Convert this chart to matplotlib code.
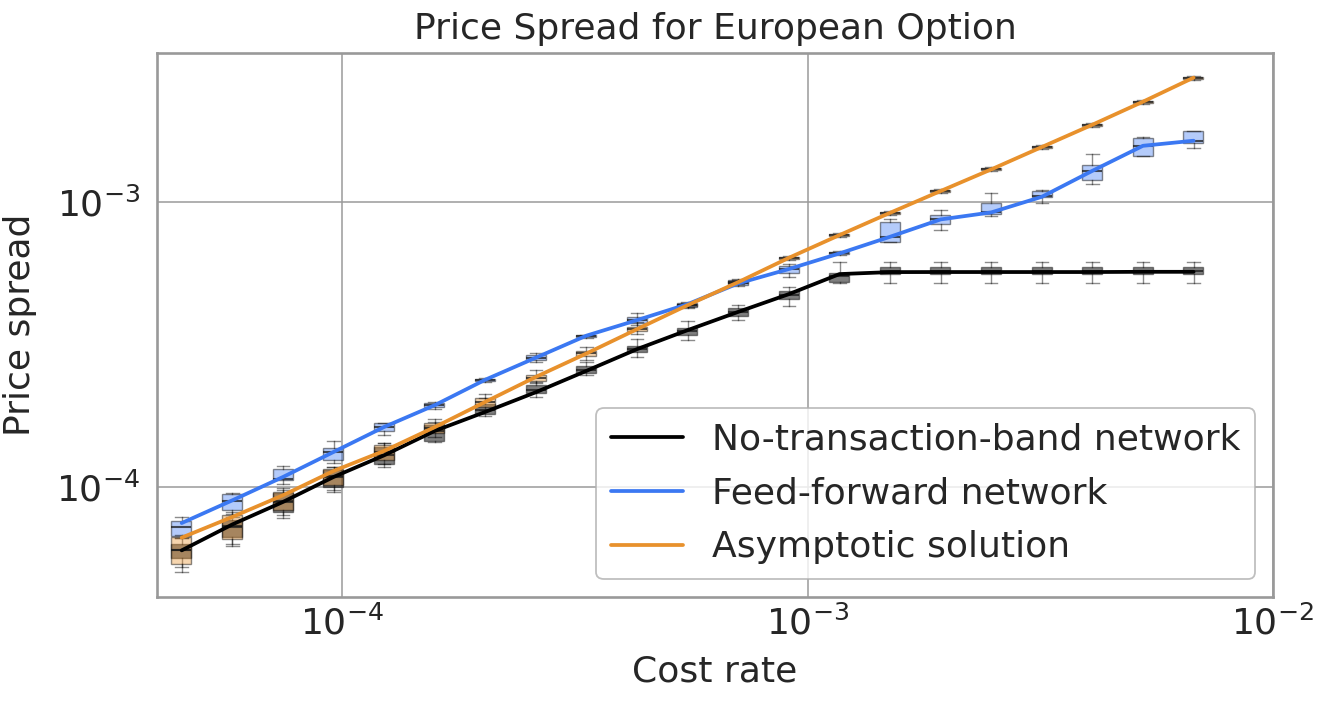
import matplotlib
matplotlib.use("Agg")
import matplotlib.pyplot as plt
from matplotlib.colors import to_rgba
from matplotlib.ticker import NullLocator

# ---------------- data ----------------
cost_rate = [4.52e-5, 5.81e-5, 7.46e-5, 9.58e-5, 1.231e-4, 1.580e-4, 2.030e-4,
             2.607e-4, 3.348e-4, 4.300e-4, 5.524e-4, 7.096e-4, 9.114e-4, 1.171e-3,
             1.504e-3, 1.931e-3, 2.481e-3, 3.186e-3, 4.092e-3, 5.256e-3, 6.751e-3]

# No-transaction-band network
ntb_line = [5.98e-5, 7.38e-5, 8.85e-5, 1.083e-4, 1.291e-4, 1.572e-4, 1.834e-4,
            2.151e-4, 2.557e-4, 3.048e-4, 3.555e-4, 4.122e-4, 4.758e-4, 5.596e-4,
            5.687e-4, 5.69e-4, 5.69e-4, 5.69e-4, 5.69e-4, 5.70e-4, 5.70e-4]
ntb_whislo = [5.21e-5, 6.28e-5, 7.74e-5, 9.57e-5, 1.172e-4, 1.435e-4, 1.771e-4,
              2.072e-4, 2.469e-4, 2.850e-4, 3.279e-4, 3.855e-4, 4.318e-4, 5.213e-4,
              5.213e-4, 5.213e-4, 5.213e-4, 5.213e-4, 5.213e-4, 5.213e-4, 5.213e-4]
ntb_q1 = [5.64e-5, 6.67e-5, 8.14e-5, 9.97e-5, 1.201e-4, 1.450e-4, 1.810e-4,
          2.129e-4, 2.515e-4, 2.974e-4, 3.405e-4, 3.982e-4, 4.570e-4, 5.256e-4,
          5.596e-4, 5.596e-4, 5.596e-4, 5.596e-4, 5.596e-4, 5.596e-4, 5.596e-4]
ntb_med = [5.98e-5, 7.27e-5, 8.83e-5, 1.081e-4, 1.291e-4, 1.569e-4, 1.860e-4,
           2.187e-4, 2.571e-4, 3.048e-4, 3.526e-4, 4.113e-4, 4.720e-4, 5.505e-4,
           5.747e-4, 5.747e-4, 5.747e-4, 5.747e-4, 5.747e-4, 5.747e-4, 5.747e-4]
ntb_q3 = [6.32e-5, 7.63e-5, 9.49e-5, 1.144e-4, 1.378e-4, 1.647e-4, 1.963e-4,
          2.277e-4, 2.656e-4, 3.122e-4, 3.603e-4, 4.237e-4, 4.887e-4, 5.654e-4,
          5.936e-4, 5.936e-4, 5.936e-4, 5.936e-4, 5.936e-4, 5.936e-4, 5.936e-4]
ntb_whishi = [6.60e-5, 7.82e-5, 9.73e-5, 1.172e-4, 1.424e-4, 1.687e-4, 2.050e-4,
              2.333e-4, 2.744e-4, 3.297e-4, 3.833e-4, 4.351e-4, 5.047e-4, 6.152e-4,
              6.182e-4, 6.182e-4, 6.182e-4, 6.182e-4, 6.182e-4, 6.182e-4, 6.182e-4]

# Feed-forward network
ffn_line = [7.46e-5, 8.97e-5, 1.083e-4, 1.326e-4, 1.624e-4, 1.936e-4, 2.380e-4,
            2.845e-4, 3.400e-4, 3.855e-4, 4.387e-4, 5.19e-4, 5.83e-4, 6.615e-4,
            7.57e-4, 8.71e-4, 9.22e-4, 1.046e-3, 1.291e-3, 1.581e-3, 1.647e-3]
ffn_whislo = [6.60e-5, 8.05e-5, 1.027e-4, 1.208e-4, 1.519e-4, 1.885e-4, 2.342e-4,
              2.750e-4, 3.345e-4, 3.702e-4, 4.265e-4, 5.076e-4, 5.474e-4, 6.525e-4,
              7.268e-4, 7.991e-4, 8.99e-4, 9.92e-4, 1.160e-3, 1.455e-3, 1.556e-3]
ffn_q1 = [6.72e-5, 8.27e-5, 1.055e-4, 1.247e-4, 1.573e-4, 1.901e-4, 2.361e-4,
          2.788e-4, 3.367e-4, 3.772e-4, 4.292e-4, 5.117e-4, 5.654e-4, 6.562e-4,
          7.268e-4, 8.367e-4, 9.07e-4, 1.046e-3, 1.198e-3, 1.458e-3, 1.613e-3]
ffn_med = [7.21e-5, 8.92e-5, 1.069e-4, 1.327e-4, 1.624e-4, 1.936e-4, 2.380e-4,
           2.840e-4, 3.385e-4, 3.855e-4, 4.369e-4, 5.200e-4, 5.826e-4, 6.632e-4,
           7.568e-4, 8.713e-4, 9.27e-4, 1.055e-3, 1.288e-3, 1.581e-3, 1.647e-3]
ffn_q3 = [7.59e-5, 9.47e-5, 1.160e-4, 1.370e-4, 1.670e-4, 1.973e-4, 2.396e-4,
          2.903e-4, 3.405e-4, 3.940e-4, 4.434e-4, 5.329e-4, 5.984e-4, 6.702e-4,
          8.506e-4, 9.022e-4, 9.92e-4, 1.100e-3, 1.353e-3, 1.688e-3, 1.777e-3]
ffn_whishi = [7.84e-5, 9.52e-5, 1.182e-4, 1.450e-4, 1.678e-4, 1.984e-4, 2.410e-4,
              2.943e-4, 3.427e-4, 4.090e-4, 4.459e-4, 5.372e-4, 6.067e-4, 6.741e-4,
              8.738e-4, 9.395e-4, 1.081e-3, 1.105e-3, 1.482e-3, 1.693e-3, 1.781e-3]

# Asymptotic solution
asy_line = [6.63e-5, 7.84e-5, 9.34e-5, 1.137e-4, 1.338e-4, 1.621e-4, 1.989e-4,
            2.435e-4, 2.943e-4, 3.583e-4, 4.351e-4, 5.244e-4, 6.383e-4, 7.674e-4,
            9.19e-4, 1.096e-3, 1.306e-3, 1.565e-3, 1.875e-3, 2.259e-3, 2.744e-3]
asy_whislo = [5.02e-5, 6.18e-5, 7.94e-5, 9.73e-5, 1.201e-4, 1.495e-4, 1.860e-4,
              2.309e-4, 2.788e-4, 3.441e-4, 4.28e-4, 5.16e-4, 6.28e-4, 7.55e-4,
              9.04e-4, 1.078e-3, 1.285e-3, 1.540e-3, 1.845e-3, 2.222e-3, 2.700e-3]
asy_q1 = [5.34e-5, 6.53e-5, 8.27e-5, 1.013e-4, 1.241e-4, 1.540e-4, 1.910e-4,
          2.358e-4, 2.886e-4, 3.526e-4, 4.32e-4, 5.20e-4, 6.33e-4, 7.61e-4,
          9.12e-4, 1.087e-3, 1.295e-3, 1.552e-3, 1.860e-3, 2.241e-3, 2.722e-3]
asy_med = [5.98e-5, 7.21e-5, 8.90e-5, 1.090e-4, 1.323e-4, 1.607e-4, 1.984e-4,
           2.419e-4, 2.951e-4, 3.583e-4, 4.351e-4, 5.244e-4, 6.383e-4, 7.674e-4,
           9.19e-4, 1.096e-3, 1.306e-3, 1.565e-3, 1.875e-3, 2.259e-3, 2.744e-3]
asy_q3 = [6.67e-5, 7.94e-5, 9.60e-5, 1.160e-4, 1.400e-4, 1.678e-4, 2.045e-4,
          2.469e-4, 3.006e-4, 3.651e-4, 4.39e-4, 5.29e-4, 6.44e-4, 7.74e-4,
          9.26e-4, 1.105e-3, 1.317e-3, 1.578e-3, 1.890e-3, 2.277e-3, 2.766e-3]
asy_whishi = [6.76e-5, 8.14e-5, 9.89e-5, 1.175e-4, 1.427e-4, 1.725e-4, 2.117e-4,
              2.571e-4, 3.104e-4, 3.793e-4, 4.42e-4, 5.33e-4, 6.49e-4, 7.80e-4,
              9.34e-4, 1.114e-3, 1.327e-3, 1.591e-3, 1.906e-3, 2.296e-3, 2.789e-3]

series_names = ["No-transaction-band network", "Feed-forward network", "Asymptotic solution"]
series_colors = ["#000000", "#3b78f2", "#e8912c"]

x_ticks = [1e-4, 1e-3, 1e-2]
y_ticks = [1e-4, 1e-3]

# ---------------- style ----------------
plt.rcParams['font.family'] = ['DejaVu Sans']
plt.rcParams['font.size'] = 26
text_color = '#262626'

W, H = 1330, 704
fig = plt.figure(figsize=(W / 100, H / 100), dpi=100)
ax = fig.add_axes([157 / W, 1 - 597 / H, (1273 - 157) / W, (597 - 53) / H])
ax.set_xscale('log')
ax.set_yscale('log')

series = [
    (ntb_line, ntb_whislo, ntb_q1, ntb_med, ntb_q3, ntb_whishi, 0.5),
    (ffn_line, ffn_whislo, ffn_q1, ffn_med, ffn_q3, ffn_whishi, 0.38),
    (asy_line, asy_whislo, asy_q1, asy_med, asy_q3, asy_whishi, 0.38),
]

widths = [c * 0.099 for c in cost_rate]
capw = [w * 0.62 for w in widths]

for (line, wlo, q1, med, q3, whi, alpha), color in zip(series, series_colors):
    stats = [dict(med=m, q1=a, q3=b, whislo=lo, whishi=hi, fliers=[])
             for lo, a, m, b, hi in zip(wlo, q1, med, q3, whi)]
    ax.bxp(stats, positions=cost_rate, widths=widths, capwidths=capw,
           patch_artist=True, showfliers=False, manage_ticks=False,
           boxprops=dict(facecolor=to_rgba(color, alpha), edgecolor=(0, 0, 0, 0.45), linewidth=1.0),
           medianprops=dict(color=(0.1, 0.1, 0.1, 0.75), linewidth=1.5),
           whiskerprops=dict(color=(0, 0, 0, 0.45), linewidth=1.0),
           capprops=dict(color=(0, 0, 0, 0.45), linewidth=1.0),
           zorder=2)

for (line, *_), color, name in zip(series, series_colors, series_names):
    ax.plot(cost_rate, line, color=color, lw=2.7, label=name, zorder=3,
            solid_capstyle='round')

ax.set_xlim(4e-5, 1e-2)
ax.set_ylim(4.1e-5, 3.35e-3)
ax.set_xticks(x_ticks)
ax.set_yticks(y_ticks)
ax.xaxis.set_minor_locator(NullLocator())
ax.yaxis.set_minor_locator(NullLocator())

ax.grid(True, which='major', color='#9a9a9a', lw=1.1)
ax.set_axisbelow(True)
for sp in ax.spines.values():
    sp.set_color('#999999')
    sp.set_linewidth(1.9)

ax.tick_params(axis='both', which='both', length=0, labelsize=26, colors=text_color)
ax.tick_params(axis='x', pad=6)
ax.tick_params(axis='y', pad=12)

ax.set_title("Price Spread for European Option", fontsize=26, color=text_color, pad=10)
ax.set_xlabel("Cost rate", fontsize=26, color=text_color, labelpad=9)
ax.set_ylabel("Price spread", fontsize=26, color=text_color, labelpad=14)

leg = ax.legend(loc='lower right', fontsize=26, frameon=True, fancybox=True,
                framealpha=0.8, edgecolor='#b0b0b0', borderaxespad=0.5,
                handlelength=2.0, labelspacing=0.55)
leg.get_frame().set_linewidth(1.3)
for t in leg.get_texts():
    t.set_color(text_color)

fig.savefig("out.png", dpi=100)
